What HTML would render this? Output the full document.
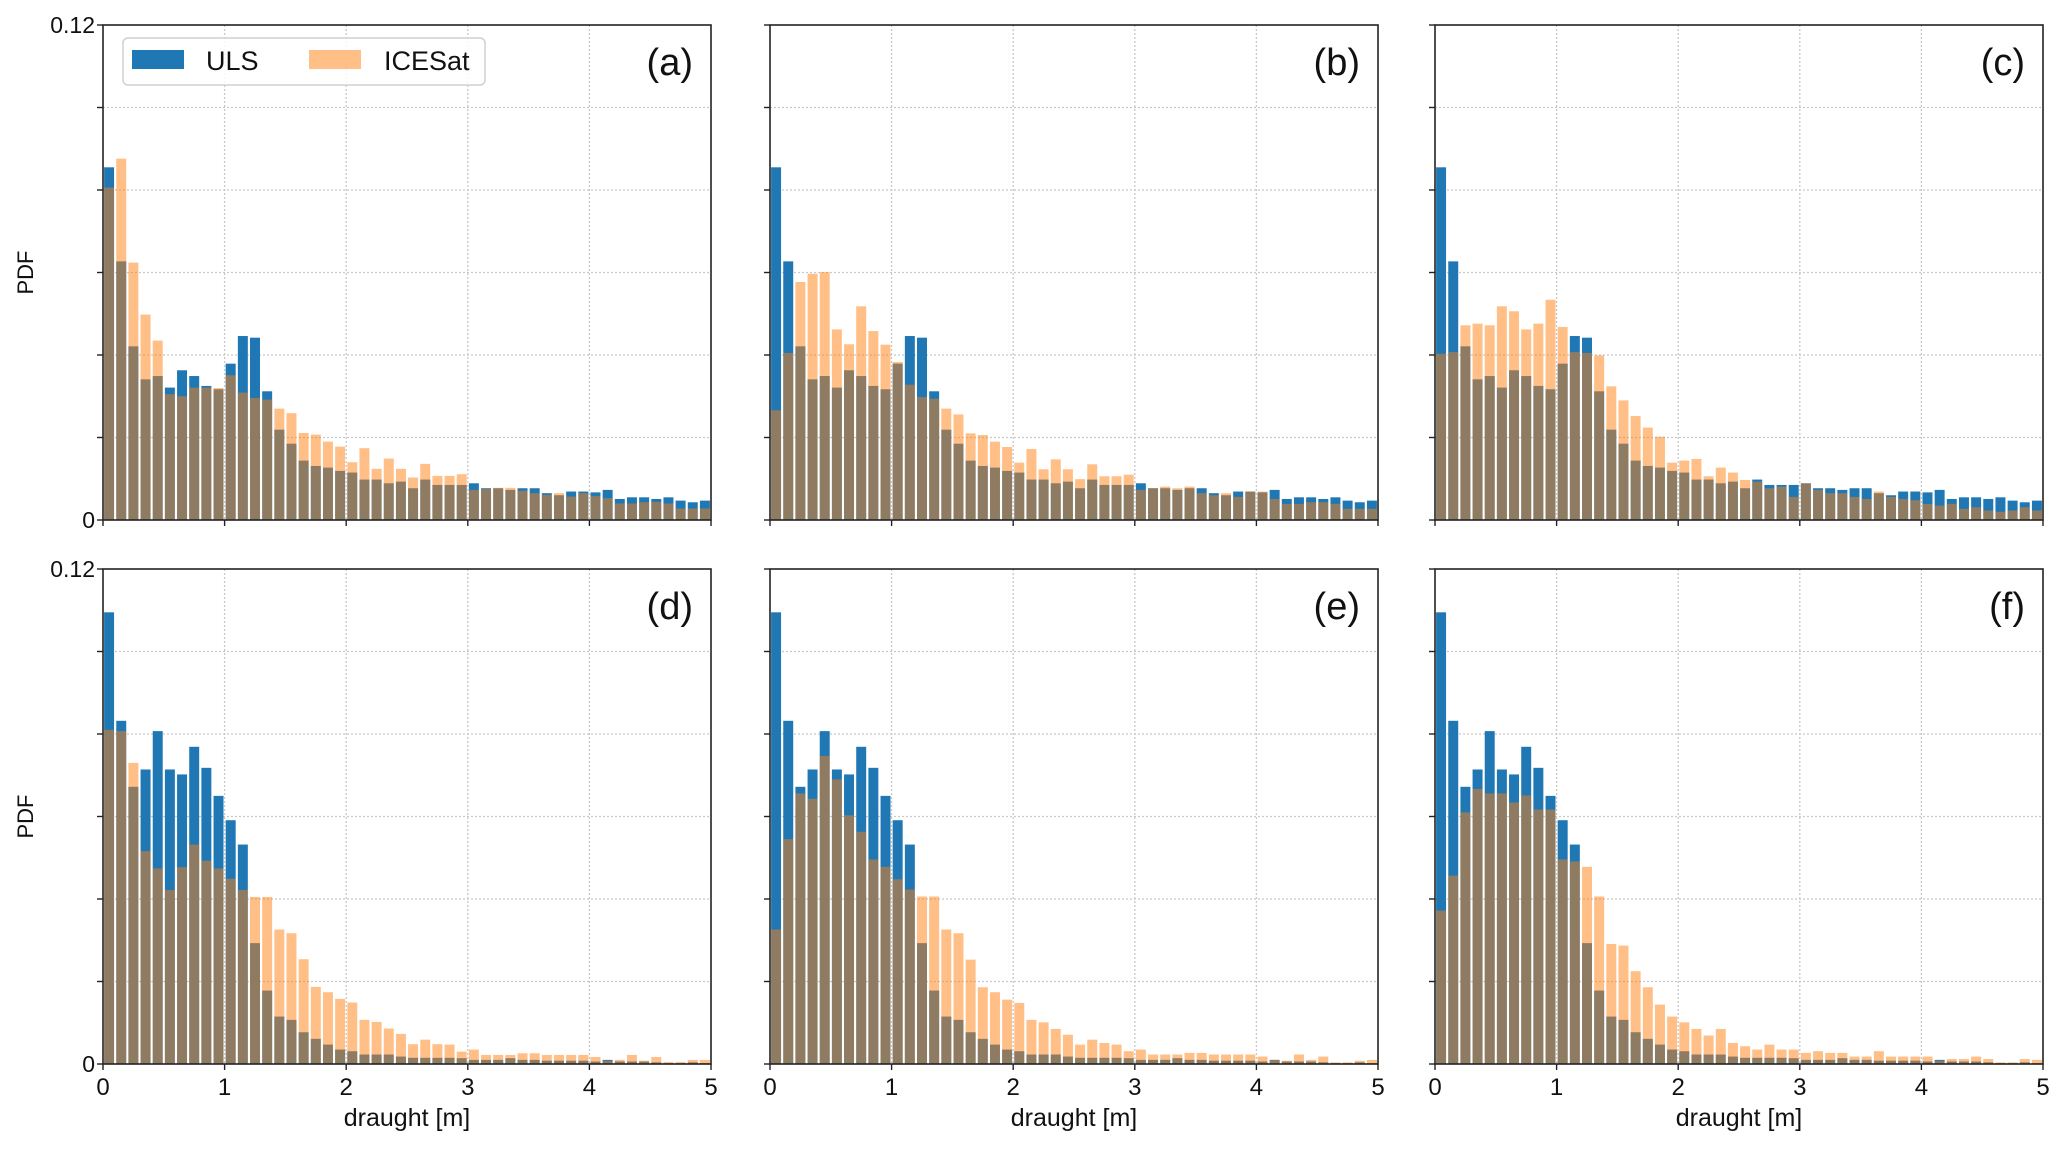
<!DOCTYPE html>
<html><head><meta charset="utf-8"><style>
html,body{margin:0;padding:0;background:#fff}
svg{display:block;font-family:"Liberation Sans","DejaVu Sans",sans-serif}
</style></head><body>
<svg id="chart" width="2067" height="1150" viewBox="0 0 2067 1150" xmlns="http://www.w3.org/2000/svg"></svg>
<script>
const binEdges = [0, 5];
const nBins = 50;
const xTickLabels = ["0","1","2","3","4","5"];
const yTickValues = [0,0.02,0.04,0.06,0.08,0.1,0.12];
const panelLetters = ["(a)","(b)","(c)","(d)","(e)","(f)"];
const ulsTop = [.0855,.0627,.0421,.0341,.0349,.0321,.0363,.0349,.0325,.0317,.0379,.0446,.0442,.0312,.0219,.0185,.0144,.0131,.0127,.0119,.0115,.0098,.0098,.0089,.0093,.0077,.0098,.0085,.0085,.0085,.0089,.0077,.0077,.0073,.0077,.0077,.0065,.006,.0069,.0069,.0067,.0073,.0051,.0055,.0055,.0051,.0055,.0047,.0043,.0047];
const ulsBottom = [.1095,.0832,.0672,.0714,.0807,.0714,.0702,.0769,.0718,.065,.0591,.0532,.0293,.0178,.0115,.0107,.0077,.0061,.0047,.0035,.0031,.0023,.0023,.0023,.0018,.0015,.0015,.0015,.0015,.0014,.001,.001,.001,.0014,.001,.001,.0008,.0008,.0008,.0008,.0006,.001,.0006,.0006,.0006,.0004,.0002,.0002,.0004,.0002];
const icesatA = [.0806,.0876,.0624,.0498,.0435,.0305,.030,.0321,.0321,.032,.0351,.0309,.0296,.0292,.027,.0259,.0211,.0207,.019,.0178,.014,.0174,.0124,.0149,.0124,.0103,.0136,.0107,.0107,.0111,.0073,.0075,.0078,.0078,.0071,.0065,.0061,.0065,.0057,.0065,.0058,.0053,.004,.004,.0043,.0044,.004,.0028,.0028,.0028];
const icesatB = [.0266,.0405,.0577,.0597,.0601,.0462,.0426,.0518,.0458,.0425,.0383,.0328,.0298,.0294,.027,.0256,.021,.0206,.019,.0177,.0139,.0172,.0123,.0147,.0123,.0099,.0135,.0106,.0106,.011,.0073,.0077,.0081,.0077,.0081,.0065,.006,.0065,.0056,.0069,.0069,.0051,.0039,.0039,.0043,.0043,.0039,.0027,.0027,.0027];
const icesatC = [.0403,.0407,.0472,.0476,.0472,.0518,.0506,.0462,.0476,.0534,.0468,.0407,.0405,.0399,.0324,.029,.0252,.0224,.0202,.0139,.0144,.0148,.0106,.0127,.0115,.0097,.0093,.0077,.0081,.0056,.0089,.0073,.0065,.0065,.0056,.0051,.0069,.0056,.0051,.0048,.0039,.0035,.0039,.0027,.0031,.0023,.002,.0023,.0031,.0023];
const icesatD = [.081,.0807,.073,.0516,.0474,.0422,.0477,.0532,.0493,.0474,.0449,.0422,.0405,.0405,.0326,.0317,.0254,.0187,.0174,.0158,.0149,.0107,.0102,.0086,.0073,.0048,.0059,.0048,.0047,.003,.0035,.0022,.0022,.0022,.0026,.0026,.0022,.0022,.0022,.0022,.0017,.0008,.001,.0022,.0008,.0017,.0005,.0005,.001,.001];
const icesatE = [.0326,.0545,.0656,.0643,.0747,.069,.0603,.0563,.0496,.0478,.0448,.0423,.0406,.0406,.0326,.0317,.0253,.0186,.0174,.0156,.0148,.0107,.0101,.0085,.0071,.0047,.0059,.0051,.0047,.0031,.0035,.0023,.0023,.0023,.0027,.0027,.0023,.0023,.0023,.0023,.0018,.001,.0008,.0023,.001,.0018,.0004,.0004,.0008,.001];
const icesatF = [.0372,.0457,.061,.0667,.0656,.0656,.0634,.0651,.0617,.0617,.0496,.0491,.0478,.0406,.0291,.0287,.0225,.0186,.0144,.0115,.0101,.0085,.0069,.0085,.0051,.0043,.0035,.0047,.0035,.0035,.0027,.0031,.0027,.0027,.0018,.0018,.0031,.0018,.0018,.0018,.0018,.0008,.0012,.0012,.0018,.0012,.0004,.0004,.0012,.001];

const NS = "http://www.w3.org/2000/svg";
const svg = document.getElementById('chart');
function mk(tag, attrs, parent){const e=document.createElementNS(NS,tag);for(const k in attrs)e.setAttribute(k,attrs[k]);(parent||svg).appendChild(e);return e;}

const colX = [103, 770, 1435];
const rowY = [25, 569];
const PW = 608, PH = 495, YMAX = 0.12;
const panels = [
  {uls: ulsTop, ice: icesatA},{uls: ulsTop, ice: icesatB},{uls: ulsTop, ice: icesatC},
  {uls: ulsBottom, ice: icesatD},{uls: ulsBottom, ice: icesatE},{uls: ulsBottom, ice: icesatF}
];

panels.forEach((p, i) => {
  const r = Math.floor(i/3), c = i%3;
  const x0 = colX[c], y0 = rowY[r];
  const xs = v => x0 + (v - binEdges[0])/(binEdges[1]-binEdges[0])*PW;
  const ys = v => y0 + PH - v/YMAX*PH;
  const g = mk('g', {});
  
  
  // grid
  for (let k=1;k<5;k++){
    const gl = mk('line',{x1:xs(k),x2:xs(k),y1:y0,y2:y0+PH,stroke:'#c8c8c8','stroke-width':1.3,'stroke-dasharray':'2,2'},g);
    
    
  }
  yTickValues.slice(1,-1).forEach(v=>{
    const gl = mk('line',{x1:x0,x2:x0+PW,y1:ys(v),y2:ys(v),stroke:'#c8c8c8','stroke-width':1.3,'stroke-dasharray':'2,2'},g);
    
    
  });
  const bw = (binEdges[1]-binEdges[0])/nBins;
  for (let b=0;b<nBins;b++){
    const bx = xs(binEdges[0]+b*bw + bw*0.09), bwp = xs(bw*0.82)-xs(0);
    const u = mk('rect',{x:bx,y:ys(p.uls[b]),width:bwp,height:ys(0)-ys(p.uls[b]),fill:'#1f77b4'},g);
    
    
  }
  for (let b=0;b<nBins;b++){
    const bx = xs(binEdges[0]+b*bw + bw*0.09), bwp = xs(bw*0.82)-xs(0);
    const o = mk('rect',{x:bx,y:ys(p.ice[b]),width:bwp,height:ys(0)-ys(p.ice[b]),fill:'#ff7f0e','fill-opacity':0.5},g);
    
    
  }
  // frame
  const fr = mk('rect',{x:x0,y:y0,width:PW,height:PH,fill:'none',stroke:'#222','stroke-width':1.6},g);
  
  
  // ticks
  yTickValues.forEach(v=>{
    const t = mk('line',{x1:x0-6,x2:x0,y1:ys(v),y2:ys(v),stroke:'#222','stroke-width':1.4},g);
    
    
  });
  xTickLabels.forEach((lab,k)=>{
    const t = mk('line',{x1:xs(k),x2:xs(k),y1:y0+PH,y2:y0+PH+6,stroke:'#222','stroke-width':1.4},g);
    
    
    if (r===1){
      const tl = mk('text',{x:xs(k),y:y0+PH+31,'text-anchor':'middle','font-size':24,fill:'#111'},g);
      tl.textContent = lab;
      
      
    }
  });
  if (c===0){
    [[YMAX,'0.12'],[0,'0']].forEach(([v,s])=>{
      const tl = mk('text',{x:x0-8,y:ys(v)+8,'text-anchor':'end','font-size':23,fill:'#111'},g);
      tl.textContent = s;
      
      
    });
    const yl = mk('text',{x:0,y:0,'text-anchor':'middle','font-size':22,fill:'#111',transform:`translate(33,${y0+PH/2}) rotate(-90)`},g);
    yl.textContent = 'PDF';
    
    
  }
  if (r===1){
    const xl = mk('text',{x:x0+PW/2,y:y0+PH+62,'text-anchor':'middle','font-size':25,fill:'#111'},g);
    xl.textContent = 'draught [m]';
    
    
  }
  const pl = mk('text',{x:x0+PW-18,y:y0+50,'text-anchor':'end','font-size':38,fill:'#111'},g);
  pl.textContent = panelLetters[i];
  
  
});

// legend
const lg = mk('g',{});


const lb = mk('rect',{x:123,y:38,width:362,height:47,rx:5,fill:'#fff','fill-opacity':0.85,stroke:'#d0d0d0','stroke-width':1.5},lg);


const p1 = mk('rect',{x:132,y:50,width:52,height:19,fill:'#1f77b4'},lg);


const t1 = mk('text',{x:206,y:70,'font-size':27,fill:'#111'},lg);
t1.textContent='ULS';


const p2 = mk('rect',{x:309,y:50,width:52,height:19,fill:'#ff7f0e','fill-opacity':0.5},lg);


const t2 = mk('text',{x:384,y:70,'font-size':27,fill:'#111'},lg);
t2.textContent='ICESat';


</script>
</body></html>
